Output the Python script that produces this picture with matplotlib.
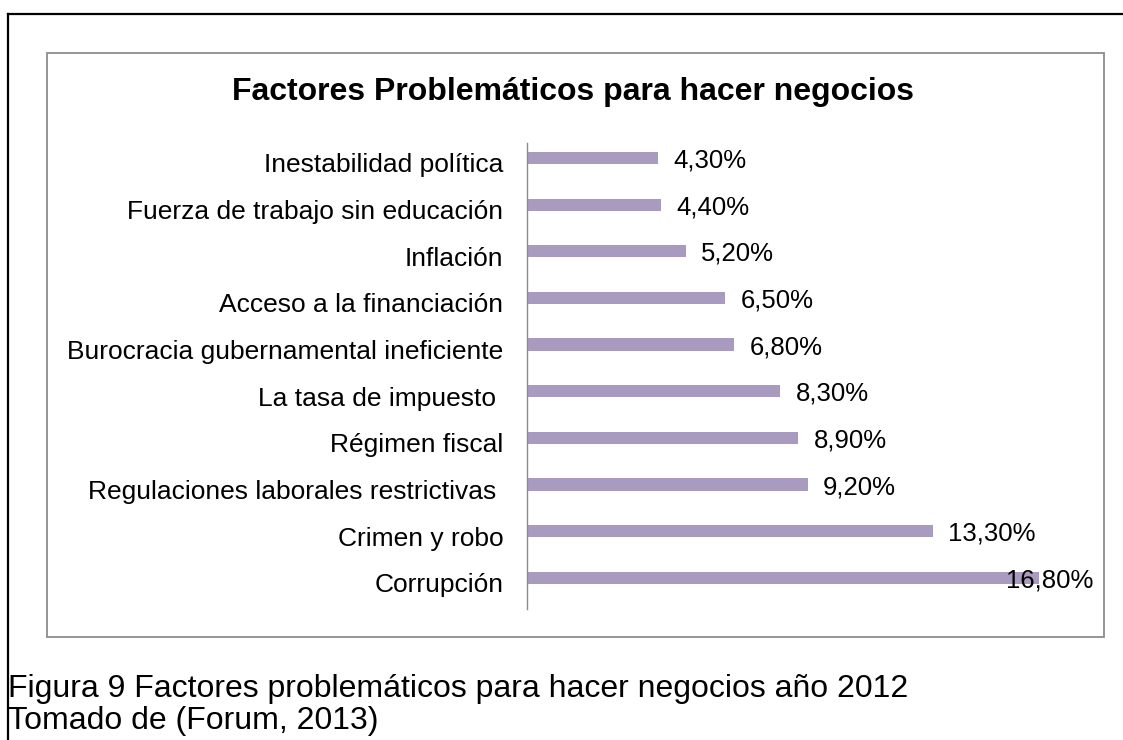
import matplotlib.pyplot as plt
from matplotlib.lines import Line2D
from matplotlib.patches import Rectangle
from matplotlib.transforms import ScaledTranslation

plt.rcParams['font.family'] = ['Liberation Sans', 'DejaVu Sans']

# Factors, bottom to top as drawn
factores = [
    'Corrupción',
    'Crimen y robo',
    'Regulaciones laborales restrictivas ',
    'Régimen fiscal',
    'La tasa de impuesto ',
    'Burocracia gubernamental ineficiente',
    'Acceso a la financiación',
    'Inflación',
    'Fuerza de trabajo sin educación',
    'Inestabilidad política',
]
porcentajes = [16.8, 13.3, 9.2, 8.9, 8.3, 6.8, 6.5, 5.2, 4.4, 4.3]

titulo = 'Factores Problemáticos para hacer negocios'
pie_figura = 'Figura 9 Factores problemáticos para hacer negocios año 2012'
fuente = 'Tomado de (Forum, 2013)'

W, H = 1123, 740
fig = plt.figure(figsize=(W / 100, H / 100), dpi=100)

# page frame (top and left edges) and the grey chart box
fig.add_artist(Line2D([8 / W, 1], [1 - 14 / H, 1 - 14 / H], color='black', lw=1.6))
fig.add_artist(Line2D([8 / W, 8 / W], [0, 1 - 14 / H], color='black', lw=1.6))
fig.add_artist(Rectangle((47 / W, 1 - 637 / H), (1104 - 47) / W, (637 - 53) / H,
                         fill=False, edgecolor='#8c8c8c', lw=1.3))

left, right = 527, 1093
top, bottom = 143, 609
ax = fig.add_axes([left / W, 1 - bottom / H, (right - left) / W, (bottom - top) / H])

ypos = list(range(len(factores)))
ax.barh(ypos, porcentajes, height=0.26, color='#a99bbf')
ax.set_xlim(0, (right - left) / 30.5)
ax.set_ylim(-0.67, 9.32)

ax.set_yticks(ypos)
ax.set_yticklabels(factores, fontsize=19)
ax.tick_params(axis='y', length=0, pad=17)
# category names sit a little below the bar centres
shift = ScaledTranslation(0, -5 / 100, fig.dpi_scale_trans)
for lbl in ax.get_yticklabels():
    lbl.set_transform(lbl.get_transform() + shift)
ax.set_xticks([])
for s in ['top', 'right', 'bottom']:
    ax.spines[s].set_visible(False)
ax.spines['left'].set_color('#8c8c8c')
ax.spines['left'].set_linewidth(1.0)

xmax = ax.get_xlim()[1]
for y, v in zip(ypos, porcentajes):
    txt = f'{v:.2f}'.replace('.', ',') + '%'
    if v + 2.8 > xmax:
        # label would run past the box, keep it inside
        ax.annotate(txt, (xmax, y), xytext=(0, -2), textcoords='offset points',
                    ha='right', va='center', fontsize=18.5)
    else:
        ax.annotate(txt, (v, y), xytext=(11, -2), textcoords='offset points',
                    ha='left', va='center', fontsize=18.5)

fig.text(573 / W, 1 - 92 / H, titulo, ha='center', va='center',
         fontsize=23, fontweight='bold')

fig.text(8 / W, 1 - 697 / H, pie_figura, ha='left', va='baseline', fontsize=23)
fig.text(8 / W, 1 - 729 / H, fuente, ha='left', va='baseline', fontsize=23)

fig.savefig('out.png', dpi=100)
